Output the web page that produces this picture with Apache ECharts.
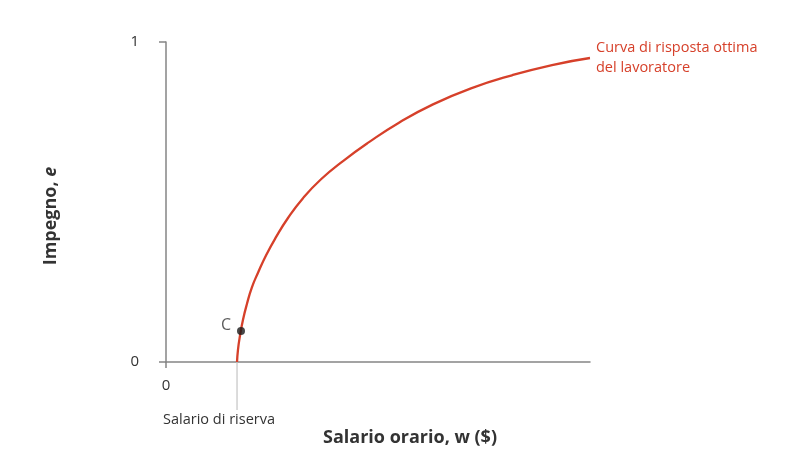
<!DOCTYPE html>
<html>
<head>
<meta charset="utf-8">
<script src="https://cdn.jsdelivr.net/npm/echarts@6/dist/echarts.min.js"></script>
<style>
html,body{margin:0;padding:0;background:#fff;}
#chart{width:809px;height:457px;}
</style>
</head>
<body>
<div id="chart"></div>
<script>
// Data
var wageValues   = [1.675, 1.698, 1.745, 1.816, 1.910, 2.028, 2.170, 2.358, 2.594, 2.877, 3.231, 3.656, 4.175, 4.788, 5.495, 6.297, 7.193, 8.160, 9.104, 10.0];
var effortValues = [0, 0.039, 0.082, 0.132, 0.182, 0.234, 0.279, 0.333, 0.390, 0.450, 0.512, 0.571, 0.628, 0.687, 0.748, 0.805, 0.855, 0.896, 0.928, 0.950];
var pointC = [1.769, 0.097];
var reservationWage = 1.675;
var reservationDrop = -0.15;
var yTicks = [0, 1];
var xTicks = [0];
var curveLabel = 'Curva di risposta ottima\ndel lavoratore';
var reservationLabel = 'Salario di riserva';
var xName = 'Salario orario, w ($)';
var yNameMain = 'Impegno, ';
var yNameVar = 'e';

var FONT = '"Open Sans", "Noto Sans", sans-serif';
var RED = '#d6402a';
var AXIS = '#858585';

var curveData = wageValues.map(function (w, i) { return [w, effortValues[i]]; });

var chart = echarts.init(document.getElementById('chart'));
chart.setOption({
  animation: false,
  grid: { left: 166, right: 219, top: 42, bottom: 95 },
  xAxis: {
    type: 'value', min: 0, max: 10, interval: 10,
    name: xName, nameLocation: 'middle', nameGap: 67,
    nameTextStyle: { fontFamily: FONT, fontSize: 18, fontWeight: 'bold', color: '#333', padding: [0, 0, 0, 64] },
    axisLine: { show: true, lineStyle: { color: AXIS, width: 1.5 } },
    axisTick: { show: true, length: 6, customValues: xTicks, lineStyle: { color: AXIS, width: 1.5 } },
    axisLabel: { customValues: xTicks, margin: 16, fontFamily: FONT, fontSize: 15, color: '#333' },
    splitLine: { show: false }
  },
  yAxis: {
    type: 'value', min: 0, max: 1, interval: 1,
    name: '{m|' + yNameMain + '}{v|' + yNameVar + '}', nameLocation: 'middle', nameGap: 106,
    nameTextStyle: {
      padding: [0, 28, 0, 0],
      rich: {
        m: { fontFamily: FONT, fontSize: 18, fontWeight: 'bold', color: '#333' },
        v: { fontFamily: FONT, fontSize: 18, fontWeight: 'bold', fontStyle: 'italic', color: '#333' }
      }
    },
    axisLine: { show: true, lineStyle: { color: AXIS, width: 1.5 } },
    axisTick: { show: true, length: 7, customValues: yTicks, lineStyle: { color: AXIS, width: 1.5 } },
    axisLabel: { customValues: yTicks, margin: 27, fontFamily: FONT, fontSize: 15, color: '#333' },
    splitLine: { show: false }
  },
  series: [
    {
      type: 'line',
      data: [[reservationWage, 0], {
        value: [reservationWage, reservationDrop],
        label: { show: true, position: 'bottom', distance: 2, offset: [-18, 0], formatter: reservationLabel,
                 fontFamily: FONT, fontSize: 14.5, color: '#333' }
      }],
      clip: false, showSymbol: true, symbol: 'circle', symbolSize: 0.01, silent: true,
      lineStyle: { color: '#c4c4c4', width: 1.2 }, z: 1
    },
    {
      type: 'line', data: curveData, smooth: 0.5, symbol: 'none', showSymbol: false,
      clip: false,
      lineStyle: { color: RED, width: 2.3 }, z: 3,
      endLabel: {
        show: true, distance: 6, formatter: curveLabel, color: RED, fontSize: 14.5, lineHeight: 20, fontFamily: FONT
      }
    },
    {
      type: 'scatter', data: [pointC], symbolSize: 8, itemStyle: { color: '#1a1a1a' }, z: 4,
      label: { show: true, position: 'left', distance: 6, offset: [0, -6], formatter: 'C',
               fontFamily: FONT, fontSize: 16, color: '#333' }
    }
  ]
});
</script>
</body>
</html>
